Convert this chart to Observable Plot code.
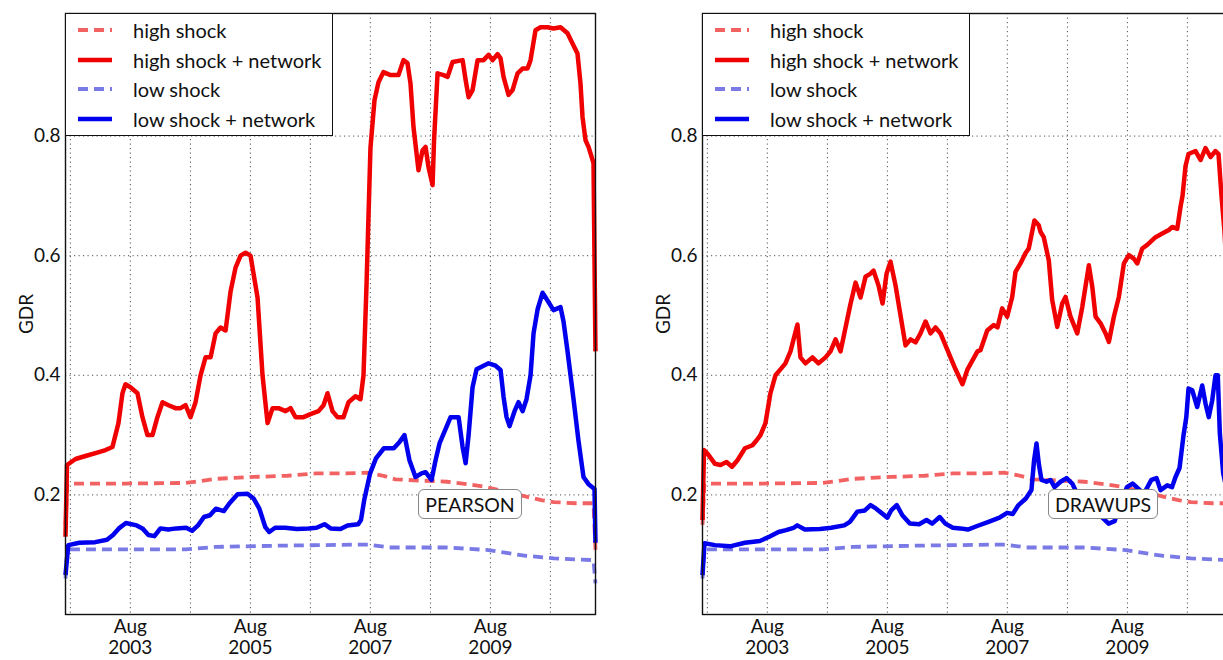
<!DOCTYPE html>
<html>
<head>
<meta charset="utf-8">
<script src="https://cdn.jsdelivr.net/npm/d3@7"></script>
<script src="https://cdn.jsdelivr.net/npm/@observablehq/plot@0.6"></script>
<style>
  html, body { margin: 0; padding: 0; background: #fff; width: 1223px; height: 660px; overflow: hidden; }
  #wrap { position: relative; width: 1223px; height: 660px; overflow: hidden; font-family: Lato, "Open Sans", sans-serif; }
  .panel { position: absolute; top: 0; }
  .legend { position: absolute; top: 13px; width: 266px; height: 121px; border: 1.5px solid #111; background: #fff; box-sizing: content-box; }
  .legend .row { position: absolute; left: 0; height: 30px; display: flex; align-items: center; font-size: 20px; color: #111; }
  .legend svg { position: absolute; left: 12px; }
  .legend span { position: absolute; left: 67px; white-space: nowrap; }
  .note { position: absolute; top: 489px; height: 28px; border: 1.3px solid #888; border-radius: 6px; background: #fff; font-size: 19.5px; color: #111; display: flex; align-items: center; justify-content: center; }
</style>
</head>
<body>
<div id="wrap"></div>
<script>
// ---------- data (decimal years, GDR values) ----------
const gridYears = [2002, 2003, 2004, 2005, 2006, 2007, 2008, 2009, 2010];
const labelYears = [2003, 2005, 2007, 2009];
const tickMonth = "Aug";
const yTicks = [0.2, 0.4, 0.6, 0.8];
const seriesNames = ["high shock", "high shock + network", "low shock", "low shock + network"];
const panelNames = ["PEARSON", "DRAWUPS"];

// dashed baselines (same in both panels)
const highShockT = [2002.5, 2002.53, 2003.5, 2004.5, 2005.03, 2005.63, 2006.2, 2006.68, 2007.1, 2007.54, 2007.8, 2008.0, 2008.4, 2008.86, 2009.2, 2009.52, 2009.85, 2010.18, 2010.45, 2010.64, 2011.0, 2011.3, 2011.333];
const highShockV = [0.15, 0.219, 0.219, 0.22, 0.227, 0.23, 0.232, 0.236, 0.236, 0.237, 0.232, 0.226, 0.224, 0.222, 0.218, 0.213, 0.205, 0.197, 0.191, 0.188, 0.186, 0.186, 0.108];
const lowShockT = [2002.5, 2002.53, 2003.5, 2004.5, 2005.0, 2006.0, 2006.7, 2007.54, 2007.9, 2008.4, 2008.86, 2009.52, 2009.85, 2010.18, 2010.64, 2011.0, 2011.3, 2011.333];
const lowShockV = [0.06, 0.109, 0.109, 0.109, 0.113, 0.115, 0.116, 0.117, 0.112, 0.112, 0.112, 0.108, 0.103, 0.098, 0.094, 0.092, 0.091, 0.052];

// PEARSON: high shock + network
const pHighNetT = [2002.5, 2002.525, 2002.667, 2002.833, 2003.0, 2003.167, 2003.283, 2003.383, 2003.45, 2003.5, 2003.583, 2003.7, 2003.783, 2003.867, 2003.95, 2004.033, 2004.117, 2004.217, 2004.333, 2004.417, 2004.5, 2004.583, 2004.667, 2004.75, 2004.833, 2004.917, 2005.0, 2005.083, 2005.167, 2005.25, 2005.333, 2005.417, 2005.5, 2005.583, 2005.633, 2005.7, 2005.783, 2005.867, 2005.95, 2006.05, 2006.167, 2006.25, 2006.333, 2006.467, 2006.583, 2006.717, 2006.8, 2006.867, 2006.95, 2007.033, 2007.133, 2007.217, 2007.333, 2007.417, 2007.467, 2007.517, 2007.583, 2007.65, 2007.717, 2007.8, 2007.917, 2008.05, 2008.133, 2008.2, 2008.25, 2008.3, 2008.383, 2008.45, 2008.5, 2008.55, 2008.617, 2008.642, 2008.7, 2008.8, 2008.867, 2008.95, 2009.117, 2009.167, 2009.217, 2009.283, 2009.367, 2009.467, 2009.55, 2009.617, 2009.7, 2009.75, 2009.8, 2009.883, 2009.95, 2010.033, 2010.117, 2010.2, 2010.25, 2010.333, 2010.417, 2010.533, 2010.633, 2010.75, 2010.867, 2010.95, 2011.033, 2011.083, 2011.117, 2011.167, 2011.217, 2011.3, 2011.333];
const pHighNetV = [0.13, 0.25, 0.26, 0.265, 0.27, 0.275, 0.28, 0.32, 0.37, 0.385, 0.38, 0.37, 0.33, 0.30, 0.30, 0.33, 0.355, 0.35, 0.345, 0.345, 0.35, 0.33, 0.355, 0.40, 0.43, 0.43, 0.47, 0.48, 0.475, 0.54, 0.58, 0.60, 0.605, 0.60, 0.57, 0.53, 0.40, 0.32, 0.345, 0.345, 0.34, 0.345, 0.33, 0.33, 0.335, 0.34, 0.35, 0.37, 0.34, 0.33, 0.33, 0.355, 0.365, 0.36, 0.40, 0.55, 0.78, 0.86, 0.89, 0.907, 0.902, 0.902, 0.927, 0.922, 0.888, 0.815, 0.743, 0.776, 0.782, 0.748, 0.718, 0.793, 0.905, 0.902, 0.899, 0.924, 0.927, 0.894, 0.865, 0.877, 0.927, 0.927, 0.936, 0.927, 0.937, 0.93, 0.899, 0.869, 0.877, 0.905, 0.913, 0.913, 0.927, 0.977, 0.982, 0.982, 0.98, 0.982, 0.972, 0.955, 0.938, 0.888, 0.832, 0.793, 0.782, 0.755, 0.44];

// PEARSON: low shock + network
const pLowNetT = [2002.5, 2002.547, 2002.73, 2002.995, 2003.192, 2003.292, 2003.39, 2003.508, 2003.687, 2003.783, 2003.883, 2003.983, 2004.083, 2004.213, 2004.347, 2004.51, 2004.61, 2004.708, 2004.807, 2004.907, 2005.005, 2005.137, 2005.233, 2005.367, 2005.533, 2005.633, 2005.73, 2005.83, 2005.895, 2005.993, 2006.158, 2006.357, 2006.55, 2006.683, 2006.817, 2006.917, 2007.083, 2007.2, 2007.378, 2007.425, 2007.478, 2007.577, 2007.675, 2007.807, 2007.972, 2008.072, 2008.15, 2008.233, 2008.333, 2008.433, 2008.5, 2008.6, 2008.667, 2008.733, 2008.833, 2008.917, 2009.05, 2009.117, 2009.167, 2009.217, 2009.283, 2009.35, 2009.467, 2009.55, 2009.667, 2009.75, 2009.8, 2009.85, 2009.9, 2009.983, 2010.05, 2010.117, 2010.183, 2010.25, 2010.3, 2010.367, 2010.45, 2010.533, 2010.633, 2010.75, 2010.8, 2010.867, 2010.967, 2011.05, 2011.133, 2011.217, 2011.317, 2011.333];
const pLowNetV = [0.066, 0.116, 0.12, 0.121, 0.125, 0.133, 0.144, 0.153, 0.149, 0.144, 0.133, 0.131, 0.144, 0.142, 0.144, 0.145, 0.14, 0.149, 0.163, 0.166, 0.177, 0.173, 0.186, 0.201, 0.202, 0.194, 0.177, 0.146, 0.138, 0.145, 0.145, 0.143, 0.144, 0.145, 0.151, 0.144, 0.143, 0.149, 0.151, 0.158, 0.191, 0.236, 0.261, 0.278, 0.278, 0.289, 0.30, 0.258, 0.23, 0.236, 0.238, 0.225, 0.258, 0.286, 0.31, 0.33, 0.33, 0.28, 0.253, 0.30, 0.38, 0.41, 0.416, 0.42, 0.416, 0.409, 0.364, 0.33, 0.315, 0.34, 0.355, 0.34, 0.36, 0.40, 0.47, 0.51, 0.538, 0.525, 0.509, 0.514, 0.49, 0.44, 0.36, 0.29, 0.23, 0.218, 0.21, 0.12];

// DRAWUPS: high shock + network
const dHighNetT = [2002.5, 2002.525, 2002.583, 2002.708, 2002.8, 2002.9, 2002.992, 2003.083, 2003.208, 2003.333, 2003.4, 2003.467, 2003.55, 2003.633, 2003.717, 2003.8, 2003.883, 2003.967, 2004.083, 2004.133, 2004.217, 2004.333, 2004.433, 2004.55, 2004.633, 2004.717, 2004.8, 2004.883, 2004.967, 2005.05, 2005.133, 2005.217, 2005.3, 2005.35, 2005.433, 2005.5, 2005.567, 2005.633, 2005.717, 2005.8, 2005.883, 2005.967, 2006.05, 2006.133, 2006.217, 2006.3, 2006.383, 2006.467, 2006.55, 2006.633, 2006.717, 2006.833, 2006.917, 2007.0, 2007.083, 2007.133, 2007.245, 2007.355, 2007.417, 2007.495, 2007.578, 2007.662, 2007.717, 2007.8, 2007.883, 2007.938, 2007.995, 2008.033, 2008.105, 2008.133, 2008.188, 2008.272, 2008.328, 2008.412, 2008.495, 2008.55, 2008.633, 2008.745, 2008.828, 2008.938, 2008.995, 2009.05, 2009.133, 2009.217, 2009.272, 2009.355, 2009.438, 2009.522, 2009.605, 2009.688, 2009.745, 2009.828, 2009.912, 2010.05, 2010.162, 2010.272, 2010.328, 2010.412, 2010.467, 2010.5, 2010.55, 2010.6, 2010.717, 2010.8, 2010.883, 2010.967, 2011.05, 2011.1, 2011.15, 2011.2, 2011.333];
const dHighNetV = [0.158, 0.275, 0.269, 0.252, 0.25, 0.255, 0.247, 0.258, 0.278, 0.283, 0.291, 0.30, 0.32, 0.37, 0.40, 0.41, 0.42, 0.44, 0.485, 0.43, 0.42, 0.43, 0.42, 0.43, 0.44, 0.46, 0.44, 0.48, 0.52, 0.555, 0.53, 0.565, 0.57, 0.575, 0.55, 0.52, 0.57, 0.59, 0.55, 0.50, 0.45, 0.46, 0.455, 0.47, 0.49, 0.47, 0.48, 0.47, 0.45, 0.43, 0.41, 0.385, 0.41, 0.425, 0.44, 0.442, 0.475, 0.484, 0.48, 0.512, 0.498, 0.531, 0.573, 0.587, 0.604, 0.612, 0.64, 0.659, 0.651, 0.64, 0.631, 0.592, 0.526, 0.481, 0.52, 0.531, 0.498, 0.47, 0.514, 0.584, 0.548, 0.498, 0.487, 0.47, 0.456, 0.498, 0.531, 0.587, 0.601, 0.595, 0.587, 0.612, 0.618, 0.631, 0.637, 0.643, 0.648, 0.645, 0.682, 0.70, 0.75, 0.77, 0.775, 0.76, 0.78, 0.765, 0.775, 0.77, 0.70, 0.64, 0.40];

// DRAWUPS: low shock + network
const dLowNetT = [2002.5, 2002.533, 2002.708, 2002.958, 2003.208, 2003.457, 2003.613, 2003.767, 2003.893, 2004.017, 2004.08, 2004.207, 2004.457, 2004.643, 2004.862, 2004.955, 2005.08, 2005.205, 2005.3, 2005.393, 2005.58, 2005.643, 2005.737, 2005.83, 2005.955, 2006.11, 2006.233, 2006.328, 2006.453, 2006.547, 2006.672, 2006.797, 2006.922, 2007.078, 2007.267, 2007.45, 2007.577, 2007.67, 2007.767, 2007.89, 2007.983, 2008.027, 2008.067, 2008.108, 2008.15, 2008.233, 2008.3, 2008.367, 2008.467, 2008.567, 2008.662, 2008.8, 2008.967, 2009.133, 2009.267, 2009.367, 2009.467, 2009.573, 2009.667, 2009.767, 2009.855, 2009.98, 2010.067, 2010.133, 2010.245, 2010.325, 2010.383, 2010.45, 2010.517, 2010.563, 2010.6, 2010.662, 2010.745, 2010.828, 2010.883, 2010.938, 2010.995, 2011.05, 2011.088, 2011.122, 2011.178, 2011.233, 2011.333];
const dLowNetV = [0.066, 0.119, 0.116, 0.114, 0.12, 0.123, 0.13, 0.138, 0.141, 0.145, 0.149, 0.142, 0.143, 0.145, 0.149, 0.155, 0.172, 0.174, 0.183, 0.177, 0.162, 0.174, 0.183, 0.166, 0.152, 0.151, 0.158, 0.152, 0.163, 0.152, 0.145, 0.144, 0.142, 0.148, 0.155, 0.162, 0.17, 0.168, 0.183, 0.194, 0.208, 0.258, 0.286, 0.25, 0.225, 0.222, 0.225, 0.213, 0.222, 0.228, 0.219, 0.19, 0.18, 0.165, 0.152, 0.156, 0.185, 0.213, 0.219, 0.21, 0.202, 0.225, 0.228, 0.208, 0.216, 0.213, 0.23, 0.245, 0.30, 0.33, 0.378, 0.375, 0.347, 0.383, 0.353, 0.33, 0.358, 0.40, 0.40, 0.303, 0.236, 0.21, 0.12];

// ---------- helpers ----------
function yearToDate(y) {
  const yr = Math.floor(y);
  const s = Date.UTC(yr, 0, 1), e = Date.UTC(yr + 1, 0, 1);
  return new Date(s + (y - yr) * (e - s));
}
const pts = (T, V) => T.map((t, i) => ({date: yearToDate(t), v: V[i]}));
const augDate = y => new Date(Date.UTC(y, 7, 1));

const colors = {hs: "#f26262", hsn: "#f00000", ls: "#7a7ae6", lsn: "#0000ee"};
const styles = [
  {stroke: colors.hs, strokeWidth: 3.8, strokeDasharray: "10,6"},
  {stroke: colors.hsn, strokeWidth: 4.5},
  {stroke: colors.ls, strokeWidth: 3.8, strokeDasharray: "10,6"},
  {stroke: colors.lsn, strokeWidth: 4.5}
];

function panel(highNetT, highNetV, lowNetT, lowNetV) {
  const series = [pts(highShockT, highShockV), pts(highNetT, highNetV), pts(lowShockT, lowShockV), pts(lowNetT, lowNetV)];
  return Plot.plot({
    width: 600, height: 660,
    marginLeft: 65, marginRight: 5, marginTop: 13, marginBottom: 46,
    style: {fontFamily: "Lato, 'Open Sans', sans-serif", fontSize: "19px", color: "#111", background: "transparent", overflow: "visible"},
    x: {type: "utc", domain: [yearToDate(2002.5), yearToDate(2011 + 1/3)]},
    y: {domain: [0, 1.005]},
    marks: [
      Plot.gridX(gridYears.map(augDate), {stroke: "#333", strokeOpacity: 0.85, strokeWidth: 1, strokeDasharray: "1.2,3.3"}),
      Plot.gridY(yTicks, {stroke: "#333", strokeOpacity: 0.85, strokeWidth: 1, strokeDasharray: "1.2,3.3"}),
      ...series.map((d, i) => Plot.line(d, {x: "date", y: "v", ...styles[i], strokeLinejoin: "round", strokeLinecap: "butt"})),
      Plot.frame({stroke: "#111", strokeWidth: 1.4}),
      Plot.axisX(labelYears.map(augDate), {tickSize: 0, tickPadding: 4, lineHeight: 1.1, fontSize: 19,
        tickFormat: d => `${tickMonth}\n${d.getUTCFullYear()}`, label: null}),
      Plot.axisY(yTicks, {tickSize: 0, tickPadding: 5, fontSize: 19, tickFormat: d => d.toFixed(1),
        label: "GDR", labelAnchor: "center", labelArrow: "none", labelOffset: 46})
    ]
  });
}

function legend(left) {
  const div = document.createElement("div");
  div.className = "legend";
  div.style.left = left + "px";
  seriesNames.forEach((name, i) => {
    const row = document.createElement("div");
    row.className = "row";
    row.style.top = (1 + i * 29.7) + "px";
    const st = styles[i];
    row.innerHTML = `<svg width="34" height="30"><line x1="0" x2="34" y1="15" y2="15" stroke="${st.stroke}" stroke-width="${st.strokeWidth}" ${st.strokeDasharray ? `stroke-dasharray="10,6"` : ""}/></svg><span>${name}</span>`;
    div.appendChild(row);
  });
  return div;
}

function note(text, left, width) {
  const d = document.createElement("div");
  d.className = "note";
  d.style.left = left + "px";
  d.style.width = width + "px";
  d.textContent = text;
  return d;
}

const wrap = document.getElementById("wrap");
const p1 = panel(pHighNetT, pHighNetV, pLowNetT, pLowNetV);
p1.classList.add("panel"); p1.style.left = "0px";
const p2 = panel(dHighNetT, dHighNetV, dLowNetT, dLowNetV);
p2.classList.add("panel"); p2.style.left = "637px";
wrap.appendChild(p1);
wrap.appendChild(p2);
wrap.appendChild(legend(65));
wrap.appendChild(legend(702));
wrap.appendChild(note(panelNames[0], 418, 102));
wrap.appendChild(note(panelNames[1], 1048, 108));
</script>
</body>
</html>
